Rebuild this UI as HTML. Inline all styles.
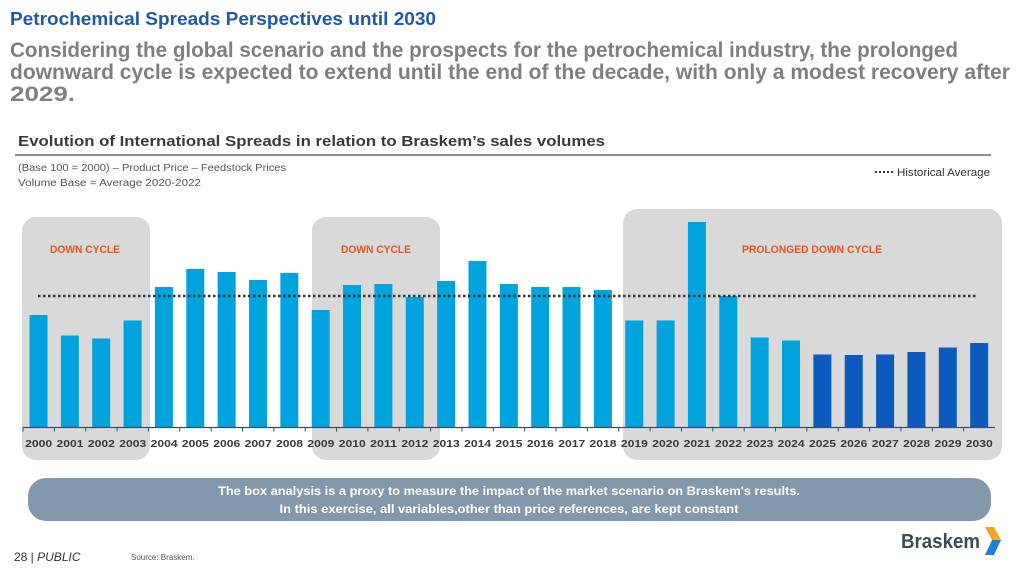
<!DOCTYPE html>
<html><head><meta charset="utf-8"><style>
html,body{margin:0;padding:0;background:#fff;}
svg{display:block;font-family:"Liberation Sans",sans-serif;}
</style></head><body>
<svg id="c" width="1019" height="573" viewBox="0 0 1019 573" xmlns="http://www.w3.org/2000/svg">
<text x="10" y="25" font-size="18" font-weight="bold" fill="#1f5aa8" textLength="426" lengthAdjust="spacingAndGlyphs">Petrochemical Spreads Perspectives until 2030</text>
<g font-size="21" font-weight="bold" fill="#7f7f7f">
<text x="10" y="57" textLength="948" lengthAdjust="spacingAndGlyphs">Considering the global scenario and the prospects for the petrochemical industry, the prolonged</text>
<text x="10" y="79" textLength="1000" lengthAdjust="spacingAndGlyphs">downward cycle is expected to extend until the end of the decade, with only a modest recovery after</text>
<text x="10" y="101" textLength="65" lengthAdjust="spacingAndGlyphs">2029.</text>
</g>
<text x="18" y="146" font-size="15" font-weight="bold" fill="#3a3a3a" textLength="587" lengthAdjust="spacingAndGlyphs">Evolution of International Spreads in relation to Braskem’s sales volumes</text>
<rect x="15" y="154" width="976" height="2" fill="#8c8c8c"/>
<text x="18" y="171" font-size="10" fill="#555" textLength="268" lengthAdjust="spacingAndGlyphs">(Base 100 = 2000) – Product Price – Feedstock Prices</text>
<text x="18" y="186" font-size="10" fill="#555" textLength="183" lengthAdjust="spacingAndGlyphs">Volume Base = Average 2020-2022</text>
<g>
<line x1="875" y1="172" x2="893" y2="172" stroke="#333" stroke-width="2" stroke-dasharray="2,2"/>
<text x="897" y="176" font-size="11" fill="#333" textLength="93" lengthAdjust="spacingAndGlyphs">Historical Average</text>
</g>
<g>
<rect x="22" y="217" width="128" height="243" rx="14" fill="#d9d9d9"/>
<rect x="312" y="217" width="128" height="243" rx="14" fill="#d9d9d9"/>
<rect x="623" y="209" width="379" height="251" rx="14" fill="#d9d9d9"/>
</g>
<g font-size="11" font-weight="bold" fill="#e8541e">
<text x="85" y="253" text-anchor="middle" textLength="70" lengthAdjust="spacingAndGlyphs">DOWN CYCLE</text>
<text x="376" y="253" text-anchor="middle" textLength="70" lengthAdjust="spacingAndGlyphs">DOWN CYCLE</text>
<text x="812" y="253" text-anchor="middle" textLength="140" lengthAdjust="spacingAndGlyphs">PROLONGED DOWN CYCLE</text>
</g>
<g id="plot"></g>
<rect x="28" y="478" width="963" height="43" rx="18" fill="#8299ad"/>
<text x="509" y="495" font-size="12" font-weight="bold" fill="#fff" text-anchor="middle" textLength="582" lengthAdjust="spacingAndGlyphs">The box analysis is a proxy to measure the impact of the market scenario on Braskem's results.</text>
<text x="509" y="513" font-size="12" font-weight="bold" fill="#fff" text-anchor="middle" textLength="459" lengthAdjust="spacingAndGlyphs">In this exercise, all variables,other than price references, are kept constant</text>
<text x="14" y="561" font-size="12" fill="#333">28  |  <tspan font-style="italic">PUBLIC</tspan></text>
<text x="131" y="560" font-size="8" fill="#555">Source: Braskem.</text>
<g>
<text x="901" y="548" font-size="20" font-weight="bold" fill="#3d4a55" textLength="79" lengthAdjust="spacingAndGlyphs">Braskem</text>
<path d="M985,527 L994,527 L1001,540 L992,540 Z" fill="#f5a623"/>
<path d="M992,540 L1001,540 L994,555 L985,555 Z" fill="#1e7fd6"/>
</g>
</svg>
<script>
const categories=["2000","2001","2002","2003","2004","2005","2006","2007","2008","2009","2010","2011","2012","2013","2014","2015","2016","2017","2018","2019","2020","2021","2022","2023","2024","2025","2026","2027","2028","2029","2030"];
const spreadValues=[112.5,92,89,107,140.5,158.5,155.5,147.5,154.5,117.5,142.5,143.5,130.5,146.5,166.5,143.5,140.5,140.5,137.5,107,107,205.5,131.5,90,87,73,72.5,73,75.5,80,84.5];
const projectedFrom="2025";
const historicalAverage=131.5;
const NS="http://www.w3.org/2000/svg";
const plot=document.getElementById('plot');
const x0=23,x1=995,base=427.5,step=(x1-x0)/categories.length;
function xPos(i){return x0+step*i;}
function yPos(v){return base-v*1.0;}
function mk(t,a){const e=document.createElementNS(NS,t);for(const k in a)e.setAttribute(k,a[k]);plot.appendChild(e);return e;}
const pi=categories.indexOf(projectedFrom);
categories.forEach((c,i)=>{
  const v=spreadValues[i];
  const r=mk('rect',{x:xPos(i)+6.5,y:yPos(v),width:18,height:base-yPos(v),fill:i>=pi?'#0a5bbd':'#00a3dd'});
  
  
  const t=mk('text',{x:xPos(i)+step/2,y:447,'font-size':10.5,'font-weight':'bold',fill:'#3a3a3a','text-anchor':'middle',textLength:27,lengthAdjust:'spacingAndGlyphs'});
  t.textContent=c;
  
  
  const tk=mk('line',{x1:xPos(i),y1:base,x2:xPos(i),y2:base+4,stroke:'#3d4f60','stroke-width':1});
  
  
});
const ax=mk('line',{x1:x0,y1:base,x2:x1,y2:base,stroke:'#3d4f60','stroke-width':1.2});


const ha=mk('line',{x1:38,y1:yPos(historicalAverage),x2:977,y2:yPos(historicalAverage),stroke:'#333','stroke-width':2.5,'stroke-dasharray':'2.5,2.5'});


</script>
</body></html>
